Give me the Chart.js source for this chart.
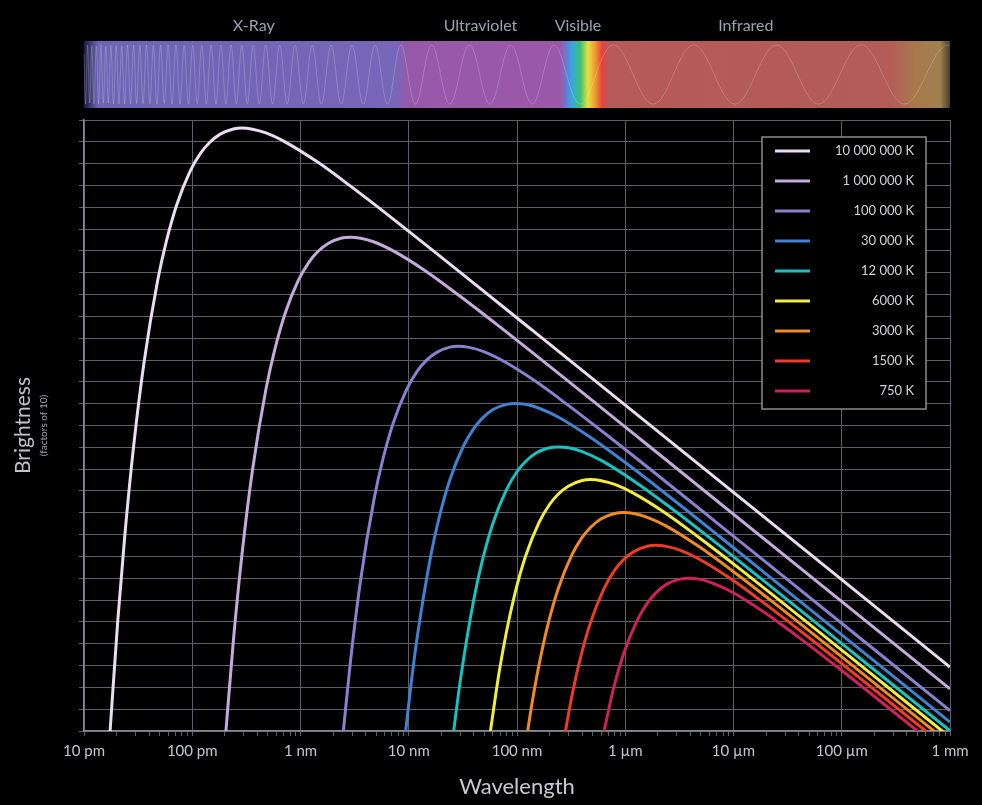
<!DOCTYPE html>
<html lang="en">
<head>
<meta charset="UTF-8">
<title>Blackbody spectra</title>
<script src="https://cdn.jsdelivr.net/npm/chart.js"></script>
<style>
  body { margin: 0; background: #000; }
  #wrap { width: 982px; height: 805px; position: relative; }
</style>
</head>
<body>
<div id="wrap"><canvas id="grafico"></canvas></div>
<script>
// wavelength in nm, brightness in powers of ten (one grid step = x10)
const temperatures = ['10 000 000 K', '1 000 000 K', '100 000 K', '30 000 K', '12 000 K', '6000 K', '3000 K', '1500 K', '750 K'];
const colores = ['#ecdcf2', '#c6aade', '#8a80d0', '#3f82d2', '#17c2c2', '#f2ec3c', '#f08a24', '#ee3b26', '#d0205c'];

const wl10M = [0.01742, 0.02055, 0.02398, 0.02878, 0.03597, 0.04796, 0.05755, 0.07194, 0.09592, 0.1199, 0.1439, 0.1799, 0.2398, 0.2878, 0.3597, 0.4796, 0.7194, 1.439, 2.878, 7.194, 143.9, 1e6];
const br10M = [0, 5.12, 9.13, 13.08, 16.94, 20.66, 22.43, 24.12, 25.67, 26.49, 26.96, 27.34, 27.59, 27.63, 27.58, 27.41, 27.00, 26.07, 24.98, 23.46, 18.30, 2.93];

const wl1M = [0.2047, 0.2398, 0.2878, 0.3597, 0.4796, 0.5755, 0.7194, 0.9592, 1.199, 1.439, 1.799, 2.398, 2.878, 3.597, 4.796, 7.194, 14.39, 28.78, 71.94, 1439, 1e6];
const br1M = [0, 4.13, 8.08, 11.94, 15.66, 17.43, 19.12, 20.67, 21.49, 21.96, 22.34, 22.59, 22.63, 22.58, 22.41, 22.00, 21.07, 19.98, 18.46, 13.30, 1.93];

const wl100k = [2.489, 2.878, 3.597, 4.796, 5.755, 7.194, 9.592, 11.99, 14.39, 17.99, 23.98, 28.78, 35.97, 47.96, 71.94, 143.9, 287.8, 719.4, 14388, 1e6];
const br100k = [0, 3.08, 6.94, 10.66, 12.43, 14.12, 15.67, 16.49, 16.96, 17.34, 17.59, 17.63, 17.58, 17.41, 17.00, 16.07, 14.98, 13.46, 8.30, 0.93];

const wl30k = [9.367, 10.66, 11.99, 15.99, 19.18, 23.98, 31.97, 39.97, 47.96, 59.95, 79.93, 95.92, 119.9, 159.9, 239.8, 479.6, 959.2, 2398, 47960, 1e6];
const br30k = [0, 2.41, 4.32, 8.04, 9.82, 11.51, 13.05, 13.87, 14.34, 14.73, 14.97, 15.01, 14.97, 14.79, 14.39, 13.45, 12.37, 10.85, 5.68, 0.41];

const wl12k = [26.01, 29.98, 39.97, 47.96, 59.95, 79.93, 99.92, 119.9, 149.9, 199.8, 239.8, 299.8, 399.7, 599.5, 1199, 2398, 5995, 119900, 1e6];
const br12k = [0, 2.33, 6.05, 7.83, 9.52, 11.06, 11.88, 12.35, 12.74, 12.98, 13.02, 12.98, 12.80, 12.40, 11.46, 10.38, 8.86, 3.69, 0.01];

const wl6k = [56.85, 68.51, 79.93, 95.92, 119.9, 159.9, 199.8, 239.8, 299.8, 399.7, 479.6, 599.5, 799.3, 1199, 2398, 4796, 11990, 239800, 1e6];
const br6k = [0, 2.71, 4.55, 6.32, 8.01, 9.56, 10.38, 10.85, 11.23, 11.48, 11.52, 11.47, 11.30, 10.89, 9.96, 8.87, 7.35, 2.19, -0.29];

const wl3k = [125.5, 137.0, 159.9, 191.8, 239.8, 319.7, 399.7, 479.6, 599.5, 799.3, 959.2, 1199, 1599, 2398, 4796, 9592, 23980, 479600, 1e6];
const br3k = [0, 1.21, 3.04, 4.82, 6.51, 8.05, 8.87, 9.34, 9.73, 9.97, 10.01, 9.97, 9.79, 9.39, 8.45, 7.37, 5.85, 0.68, -0.59];

const wl1500 = [280.5, 319.7, 383.7, 479.6, 639.5, 799.3, 959.2, 1199, 1599, 1918, 2398, 3197, 4796, 9592, 19184, 47960, 479600, 1e6];
const br1500 = [0, 1.54, 3.31, 5.00, 6.55, 7.37, 7.84, 8.22, 8.47, 8.51, 8.46, 8.29, 7.88, 6.95, 5.86, 4.34, 0.38, -0.89];

const wl750 = [637.8, 767.4, 959.2, 1279, 1599, 1918, 2398, 3197, 3837, 4796, 6395, 9592, 19184, 38368, 95920, 383680, 1e6];
const br750 = [0, 1.81, 3.49, 5.04, 5.86, 6.33, 6.72, 6.96, 7.00, 6.96, 6.78, 6.38, 5.44, 4.36, 2.84, 0.46, -1.20];

const tickValues = [0.01, 0.1, 1, 10, 100, 1000, 1e4, 1e5, 1e6];
const tickLabels = ['10 pm', '100 pm', '1 nm', '10 nm', '100 nm', '1 µm', '10 µm', '100 µm', '1 mm'];

// spectrum strip above the plot
const bandNames = ['X-Ray', 'Ultraviolet', 'Visible', 'Infrared'];
const bandLabelWl = [0.37, 46, 366, 13000];
const bandStopWl = [0.01, 0.0135, 7.4, 10.3, 250, 284, 322, 382, 453, 537, 610, 693, 2.8e5, 4.75e5, 8.1e5, 1e6];
const bandStopColor = ['#1e1a40', '#6e64b4', '#7866b8', '#9858aa', '#9c58a8', '#6a78d0', '#35a8e0', '#3cc070', '#e8e040', '#f09030', '#e84040', '#b65a5a', '#b35c58', '#a8784c', '#a08050', '#4a3e2c'];
// period of the faint wave (px) at a few wavelengths along the strip
const waveWl = [0.01, 0.3, 7, 30, 200, 1000, 1e6];
const wavePeriod = [4, 11, 26, 40, 44, 80, 88];

const curves = [[wl10M, br10M], [wl1M, br1M], [wl100k, br100k], [wl30k, br30k], [wl12k, br12k],
                [wl6k, br6k], [wl3k, br3k], [wl1500, br1500], [wl750, br750]];

const gridColor = '#5c6168';
const fontFam = 'Lato, "Open Sans", sans-serif';

function isDecade(v) {
    const l = Math.log10(v);
    return Math.abs(l - Math.round(l)) < 1e-6;
}

const datasets = curves.map((c, i) => ({
    label: temperatures[i],
    data: c[0].map((w, j) => ({ x: w, y: c[1][j] })),
    borderColor: colores[i],
    borderWidth: 3,
    pointRadius: 0,
    fill: false,
    clip: 0,
    cubicInterpolationMode: 'monotone'
}));

const decor = {
    id: 'decor',
    beforeDraw(chart) {
        const { ctx, chartArea: a, scales: { x } } = chart;
        ctx.save();
        ctx.fillStyle = '#000';
        ctx.fillRect(0, 0, chart.width, chart.height);

        const top = 41, h = 67;
        const g = ctx.createLinearGradient(a.left, 0, a.right, 0);
        bandStopWl.forEach((w, i) => {
            const t = (x.getPixelForValue(w) - a.left) / (a.right - a.left);
            g.addColorStop(Math.min(1, Math.max(0, t)), bandStopColor[i]);
        });
        ctx.fillStyle = g;
        ctx.fillRect(a.left, top, a.right - a.left, h);

        // faint wave drawn through the strip, stretching towards long wavelengths
        const wx = waveWl.map(w => x.getPixelForValue(w));
        const periodAt = px => {
            for (let i = 1; i < wx.length; i++) {
                if (px <= wx[i]) {
                    const t = (px - wx[i - 1]) / (wx[i] - wx[i - 1]);
                    return wavePeriod[i - 1] + t * (wavePeriod[i] - wavePeriod[i - 1]);
                }
            }
            return wavePeriod[wavePeriod.length - 1];
        };
        ctx.beginPath();
        let ph = 0;
        for (let px = a.left; px <= a.right; px += 0.5) {
            ph += Math.PI / periodAt(px);
            const py = top + h / 2 - Math.cos(ph) * (h / 2 - 4);
            if (px === a.left) ctx.moveTo(px, py); else ctx.lineTo(px, py);
        }
        ctx.strokeStyle = 'rgba(255,255,255,0.2)';
        ctx.lineWidth = 1;
        ctx.stroke();

        ctx.font = '16px ' + fontFam;
        ctx.fillStyle = '#9aa3b4';
        ctx.textAlign = 'center';
        ctx.textBaseline = 'middle';
        bandNames.forEach((n, i) => ctx.fillText(n, x.getPixelForValue(bandLabelWl[i]), 26));
        ctx.restore();
    },
    afterDraw(chart) {
        const { ctx, chartArea: a } = chart;
        ctx.save();
        // subtitle of the y axis
        ctx.translate(44, (a.top + a.bottom) / 2);
        ctx.rotate(-Math.PI / 2);
        ctx.font = '10px ' + fontFam;
        ctx.fillStyle = '#a0a4aa';
        ctx.textAlign = 'center';
        ctx.textBaseline = 'middle';
        ctx.fillText('(factors of 10)', 0, 0);
        ctx.restore();

        // legend box
        const bx = a.right - 188, by = a.top + 17, bw = 164, bh = 272;
        ctx.save();
        ctx.fillStyle = '#000';
        ctx.fillRect(bx, by, bw, bh);
        ctx.strokeStyle = '#8a8a8a';
        ctx.lineWidth = 1.5;
        ctx.strokeRect(bx, by, bw, bh);
        ctx.font = '13px ' + fontFam;
        ctx.textAlign = 'right';
        ctx.textBaseline = 'middle';
        chart.data.datasets.forEach((d, i) => {
            const yy = by + 14 + i * 30;
            ctx.strokeStyle = d.borderColor;
            ctx.lineWidth = 3;
            ctx.beginPath();
            ctx.moveTo(bx + 13, yy);
            ctx.lineTo(bx + 48, yy);
            ctx.stroke();
            ctx.fillStyle = '#d4d4d8';
            ctx.fillText(d.label, bx + bw - 12, yy);
        });
        ctx.restore();
    }
};

new Chart(document.getElementById('grafico'), {
    type: 'line',
    data: { datasets: datasets },
    options: {
        responsive: true,
        maintainAspectRatio: false,
        animation: false,
        layout: { padding: { top: 120, right: 32, left: 0, bottom: 0 } },
        plugins: { legend: { display: false }, tooltip: { enabled: false } },
        scales: {
            x: {
                type: 'logarithmic',
                min: 0.01,
                max: 1e6,
                afterBuildTicks: s => {
                    const t = [];
                    for (let e = -2; e <= 6; e++) {
                        for (let k = 1; k <= 9; k++) {
                            const v = k * Math.pow(10, e);
                            if (v <= 1e6 * 1.0001) t.push({ value: v });
                        }
                    }
                    s.ticks = t;
                },
                afterFit: s => { s.height = 74; },
                ticks: {
                    autoSkip: false,
                    maxRotation: 0,
                    padding: 6,
                    color: '#c4c8cc',
                    font: { family: fontFam, size: 15 },
                    callback: v => {
                        const i = tickValues.findIndex(t => Math.abs(Math.log10(t) - Math.log10(v)) < 1e-6);
                        return i >= 0 ? tickLabels[i] : '';
                    }
                },
                grid: {
                    color: c => (c.tick && isDecade(c.tick.value)) ? gridColor : 'rgba(0,0,0,0)',
                    tickColor: gridColor,
                    tickLength: 5
                },
                border: { color: '#858a91', width: 1.5 },
                title: {
                    display: true,
                    text: 'Wavelength',
                    color: '#c8ccd0',
                    font: { family: fontFam, size: 22 },
                    padding: { top: 0, bottom: 5 }
                }
            },
            y: {
                type: 'linear',
                min: 0,
                max: 28,
                afterFit: s => { s.width = 84; },
                ticks: { stepSize: 1, display: false },
                grid: { color: gridColor, tickColor: gridColor, tickLength: 5 },
                border: { color: '#858a91', width: 1.5 },
                title: {
                    display: true,
                    text: 'Brightness',
                    color: '#c0c4c8',
                    font: { family: fontFam, size: 21 },
                    padding: { top: 11, bottom: 0 }
                }
            }
        }
    },
    plugins: [decor]
});
</script>
</body>
</html>
